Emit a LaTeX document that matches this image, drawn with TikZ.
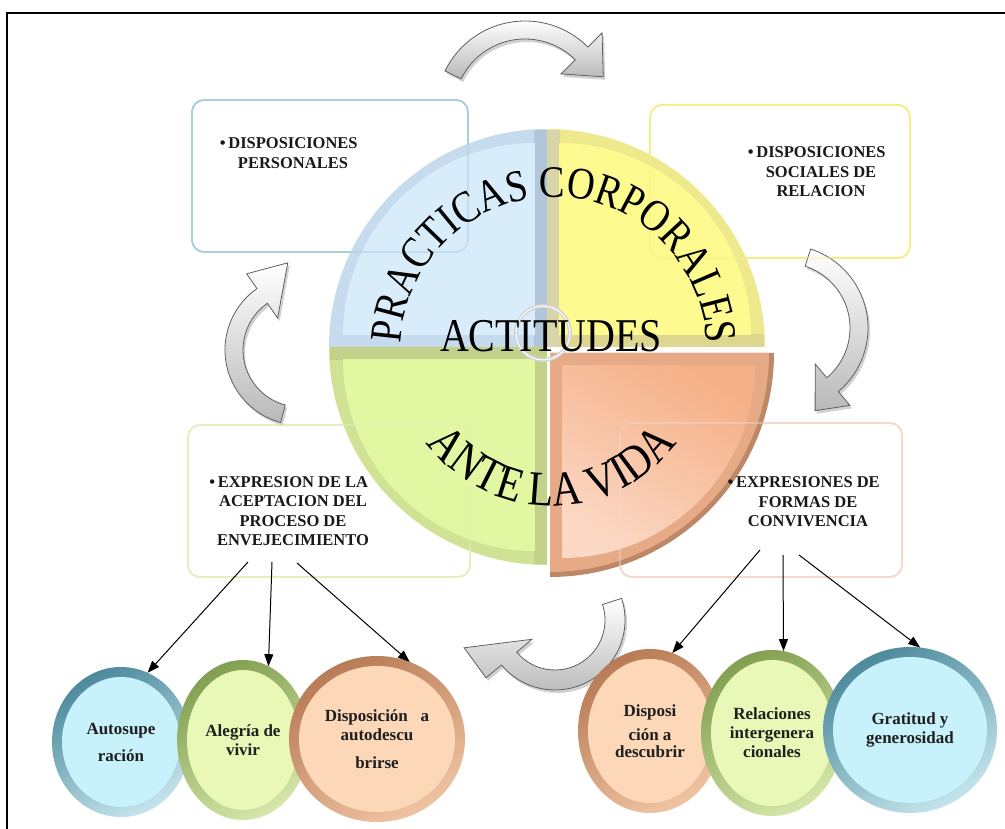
\documentclass[tikz,border=0pt]{standalone}
\usepackage{fontspec}
\setmainfont{Liberation Serif}
\newfontfamily\arcfont[FakeStretch=0.85]{Liberation Serif}
\usetikzlibrary{shapes.geometric,arrows.meta,decorations.text,calc}
\definecolor{boxblue}{HTML}{A8CFDD}
\definecolor{boxyellow}{HTML}{F3F184}
\definecolor{boxgreen}{HTML}{E2F0BE}
\definecolor{boxpeach}{HTML}{F4D8CC}
\definecolor{qblueband}{HTML}{C6DCEE}
\definecolor{qbluestrip}{HTML}{B2C6DA}
\definecolor{qblue}{HTML}{D8ECFA}
\definecolor{qyelband}{HTML}{EEE98C}
\definecolor{qyelstrip}{HTML}{D8D5A9}
\definecolor{qyelstripb}{HTML}{DDD68E}
\definecolor{qyel}{HTML}{FDFB8F}
\definecolor{qgreenband}{HTML}{D0E294}
\definecolor{qgreenstrip}{HTML}{C3D28B}
\definecolor{qgreen}{HTML}{E2F7A1}
\definecolor{qorrim}{HTML}{BC8868}
\definecolor{qorband}{HTML}{E6AA86}
\definecolor{qora}{HTML}{F5B088}
\definecolor{qorb}{HTML}{FBD8C3}
\definecolor{bubBdark}{HTML}{4D8A9C}
\definecolor{bubBlight}{HTML}{C4E4EC}
\definecolor{bubBin}{HTML}{C8F2FB}
\definecolor{bubGdark}{HTML}{82A052}
\definecolor{bubGlight}{HTML}{D5E6A8}
\definecolor{bubGin}{HTML}{E9F8B6}
\definecolor{bubOdark}{HTML}{B87B55}
\definecolor{bubOlight}{HTML}{EFC3A2}
\definecolor{bubOin}{HTML}{FCD8B8}
\newcommand{\bentarrow}[9]{%
\begin{scope}[shift={(#1,#2)}]
\fill[black, opacity=0.18, shift={(2,-3)}] ({#5}:{#3+#4}) arc[start angle={#5}, end angle={#6}, radius={#3+#4}] -- ({#6}:{#3+#7}) -- ({#8}:{#9}) -- ({#6}:{#3-#7}) -- ({#6}:{#3-#4}) arc[start angle={#6}, end angle={#5}, radius={#3-#4}] -- cycle;
\shadedraw[arrbody] ({#5}:{#3+#4}) arc[start angle={#5}, end angle={#6}, radius={#3+#4}] -- ({#6}:{#3+#7}) -- ({#8}:{#9}) -- ({#6}:{#3-#7}) -- ({#6}:{#3-#4}) arc[start angle={#6}, end angle={#5}, radius={#3-#4}] -- cycle;
\end{scope}}
\begin{document}
\begin{tikzpicture}[x=1pt,y=1pt,
  boxs/.style n args={3}{rectangle, rounded corners=12pt, draw=#3, line width=1.8pt, fill=white, minimum width=#1pt, minimum height=#2pt, inner sep=0pt, outer sep=0pt},
  btxt/.style={font=\bfseries\fontsize{16.5}{19.5}\selectfont, align=center, inner sep=0pt, text=black!90},
  bubble/.style n args={5}{ellipse, minimum width=#1pt, minimum height=#2pt, inner sep=0pt, outer sep=0pt, align=center, font=\bfseries\fontsize{17}{19}\selectfont, text=black!88, left color=#3, right color=#4, shading angle=30, path picture={\fill[#5] (path picture bounding box.center) ellipse [x radius={#1/2-10}, y radius={#2/2-10}];}},
  link/.style={-{Triangle[length=12pt,width=9pt]}, line width=1pt, black},
  arrbody/.style={top color=white, bottom color=gray!55, draw=gray!75!black, line width=0.8pt}
]
\useasboundingbox (0,0) rectangle (1005,829);
\fill[white] (0,0) rectangle (1005,829);
\draw[line width=2pt] (7,0) -- (7,816) -- (1005,816);

% boxes
\node[boxs={276}{152}{boxblue}] (b1) at (330,653) {};
\node[boxs={260}{153}{boxyellow}] (b2) at (780,647.5) {};
\node[boxs={282}{152}{boxgreen}] (b3) at (329,328) {};
\node[boxs={282}{154}{boxpeach}] (b4) at (761,329) {};

% curved arrows
\bentarrow{525}{719}{80}{9}{154}{45}{29}{23}{85}
\bentarrow{785}{501}{74}{9}{72}{-50}{27}{-70}{88}
\bentarrow{555}{209}{60}{10}{18}{-140}{30}{-163}{95}
\bentarrow{300}{479}{66}{9}{255}{125}{27}{98}{88}

% central disc
\begin{scope}[shift={(547,482)}]
  % blue TL
  \fill[qblueband] (0,0) -- (180:218) arc[start angle=180,end angle=90,radius=218] -- cycle;
  \fill[qbluestrip] (-13,0) rectangle (0,217);
  \fill[qblue, shift={(135:17)}] (0,0) -- (180:192) arc[start angle=180,end angle=90,radius=192] -- cycle;
  % yellow TR
  \fill[qyelband] (0,0) -- (90:218) arc[start angle=90,end angle=0,radius=218] -- cycle;
  \fill[qyelstrip] (0,0) rectangle (13,217);
  \fill[qyelstripb] (13,0) rectangle (217,13);
  \fill[qyel, shift={(45:17)}] (0,0) -- (90:192) arc[start angle=90,end angle=0,radius=192] -- cycle;
  % green BL
  \fill[qgreenband] (0,0) -- (180:218) arc[start angle=180,end angle=270,radius=218] -- cycle;
  \fill[qgreenstrip] (-217,-13) rectangle (0,0);
  \fill[qgreenstrip] (-13,-217) rectangle (0,-13);
  \fill[qgreen, shift={(225:17)}] (0,0) -- (180:192) arc[start angle=180,end angle=270,radius=192] -- cycle;
  % orange BR
  \begin{scope}[shift={(3,-6)}]
    \fill[qorrim] (0,0) -- (0:224) arc[start angle=0,end angle=-90,radius=224] -- cycle;
    \fill[qorband] (0,0) -- (0:219) arc[start angle=0,end angle=-90,radius=219] -- cycle;
    \shade[left color=qora, right color=qorb, shading angle=-30, shift={(-45:17)}] (0,0) -- (0:193) arc[start angle=0,end angle=-90,radius=193] -- cycle;
  \end{scope}
\end{scope}

% box borders seen through the disc
\draw[boxblue, line width=1.8pt, rounded corners=12pt, draw opacity=0.45] (b1.south west) rectangle (b1.north east);
\draw[boxyellow, line width=1.8pt, rounded corners=12pt, draw opacity=0.45] (b2.south west) rectangle (b2.north east);
\draw[boxgreen, line width=1.8pt, rounded corners=12pt, draw opacity=0.45] (b3.south west) rectangle (b3.north east);
\draw[boxpeach, line width=1.8pt, rounded corners=12pt, draw opacity=0.45] (b4.south west) rectangle (b4.north east);

% centre ring
\draw[line width=4pt, gray!35] (543,496) circle (27);
\draw[line width=1pt, white] (543,496) circle (27);

% arc texts
\path[decorate, decoration={text along path, text align=center, text={|\arcfont\fontsize{45}{45}\selectfont|PRACTICAS CORPORALES}}]
  (554,479) ++(185:153) arc[start angle=185, end angle=-5, radius=153];
\path[decorate, decoration={text along path, text align=center, text={|\arcfont\fontsize{49}{49}\selectfont|ANTE LA VIDA}}]
  (552,479) ++(195:156) arc[start angle=195, end angle=345, radius=156];
\node[inner sep=0pt, font=\arcfont\fontsize{47}{47}\selectfont] (act) at (551,493) {ACTITUDES};

% box texts
\node[btxt] (t1) at (293,676) {\llap{\textbullet\,}DISPOSICIONES\\PERSONALES};
\node[btxt] (t2) at (821,657) {\llap{\textbullet\,}DISPOSICIONES\\SOCIALES DE\\RELACION};
\node[btxt] (t3) at (293,318) {\llap{\textbullet\,}EXPRESION DE LA\\ACEPTACION DEL\\PROCESO DE\\ENVEJECIMIENTO};
\node[btxt] (t4) at (808,327) {\llap{\textbullet\,}EXPRESIONES DE\\FORMAS DE\\CONVIVENCIA};

% bubbles
\node[bubble={138}{150}{bubBdark}{bubBlight}{bubBin}] (c1) at (121,87) {Autosupe\\[8pt]ración};
\node[bubble={132}{160}{bubGdark}{bubGlight}{bubGin}] (c2) at (243,89) {Alegría de\\vivir};
\node[bubble={176}{166}{bubOdark}{bubOlight}{bubOin}] (c3) at (377,90) {Disposición\ \ \ a\\autodescu\\[9pt]brirse};
\node[bubble={144}{164}{bubOdark}{bubOlight}{bubOin}] (c4) at (650,98) {Disposi\\[5pt]ción a\\[-2pt]descubrir};
\node[bubble={142}{166}{bubGdark}{bubGlight}{bubGin}] (c5) at (772,96) {Relaciones\\intergenera\\cionales};
\node[bubble={174}{166}{bubBdark}{bubBlight}{bubBin}] (c6) at (910,99) {Gratitud y\\generosidad};

% links
\coordinate (s1) at (248,267);
\coordinate (s2) at (272,267);
\coordinate (s3) at (297,266);
\coordinate (s4) at (760,279);
\coordinate (s5) at (783,274);
\coordinate (s6) at (799,274);
\draw[link] (s1) -- (c1.69);
\draw[link] (s2) -- (c2.71);
\draw[link] (s3) -- (c3.67);
\draw[link] (s4) -- (c4.74);
\draw[link] (s5) -- (c5.82);
\draw[link] (s6) -- (c6.83);
\end{tikzpicture}
\end{document}
